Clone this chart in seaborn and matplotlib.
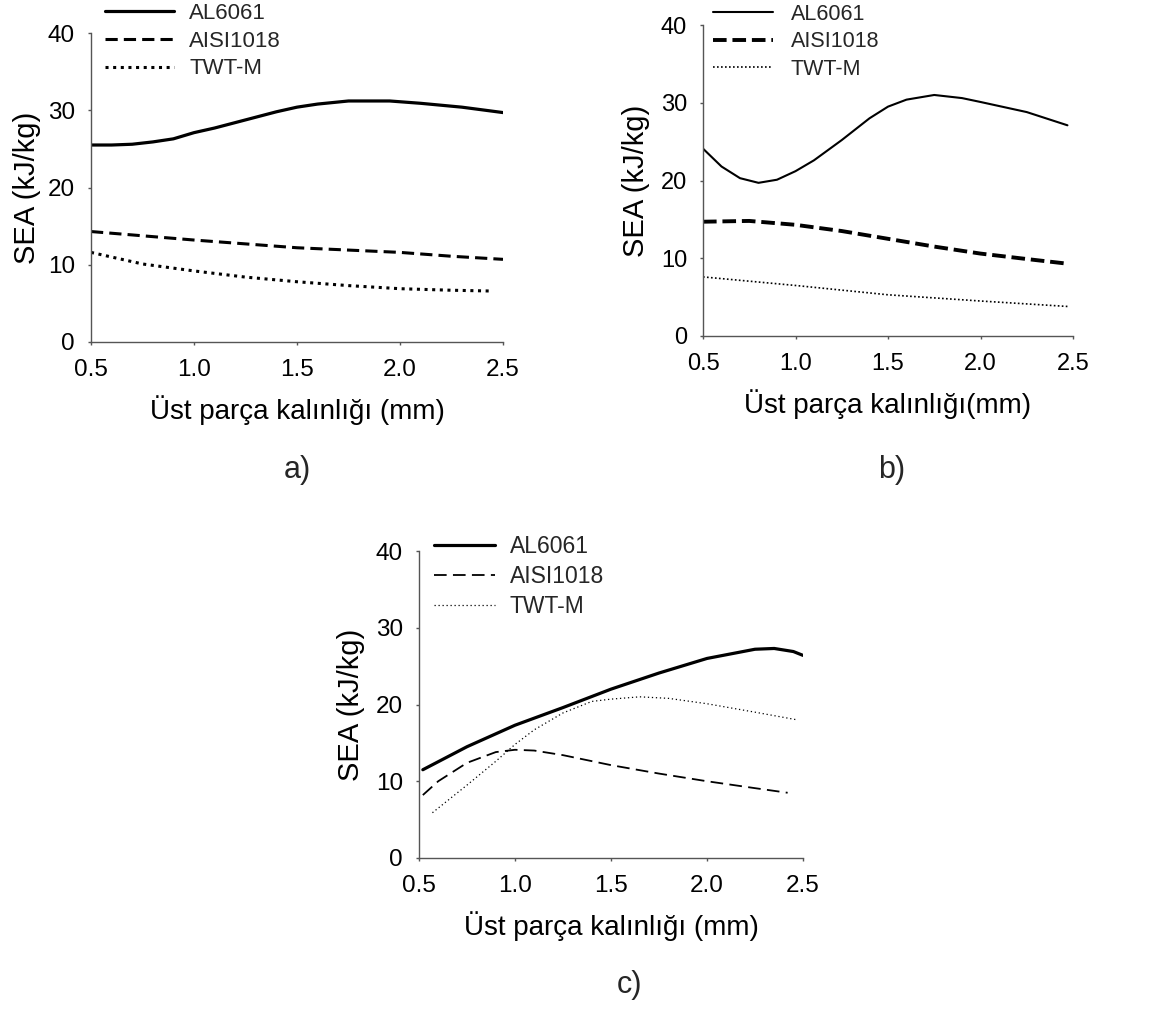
import matplotlib
matplotlib.use("Agg")
import matplotlib.pyplot as plt
import seaborn as sns
import numpy as np

sns.set_style("white")
plt.rcParams['font.family'] = ['Liberation Sans', 'DejaVu Sans']

W, H = 1165, 1014

series_names = ["AL6061", "AISI1018", "TWT-M"]
xticks = [0.5, 1.0, 1.5, 2.0, 2.5]
xticklabels = ["0.5", "1.0", "1.5", "2.0", "2.5"]
yticks = [0, 10, 20, 30, 40]

# Panel a
a_al_x = [0.5, 0.6, 0.7, 0.8, 0.9, 1.0, 1.1, 1.2, 1.3, 1.4, 1.5, 1.6, 1.75, 1.95, 2.1, 2.3, 2.5]
a_al_y = [25.5, 25.5, 25.6, 25.9, 26.3, 27.1, 27.7, 28.4, 29.1, 29.8, 30.4, 30.8, 31.2, 31.2, 30.9, 30.4, 29.7]
a_st_x = [0.5, 0.75, 1.0, 1.25, 1.5, 1.75, 2.0, 2.25, 2.5]
a_st_y = [14.3, 13.75, 13.2, 12.7, 12.2, 11.9, 11.6, 11.1, 10.7]
a_tw_x = [0.5, 0.75, 1.0, 1.25, 1.5, 1.75, 2.0, 2.25, 2.44]
a_tw_y = [11.6, 10.1, 9.2, 8.4, 7.8, 7.3, 6.9, 6.7, 6.6]

# Panel b
b_al_x = [0.5, 0.6, 0.7, 0.8, 0.9, 1.0, 1.1, 1.25, 1.4, 1.5, 1.6, 1.75, 1.9, 2.0, 2.25, 2.47]
b_al_y = [24.1, 21.8, 20.3, 19.7, 20.1, 21.2, 22.6, 25.2, 28.0, 29.5, 30.4, 31.0, 30.6, 30.1, 28.8, 27.1]
b_st_x = [0.5, 0.75, 1.0, 1.25, 1.5, 1.75, 2.0, 2.25, 2.47]
b_st_y = [14.7, 14.8, 14.3, 13.5, 12.5, 11.5, 10.6, 9.9, 9.3]
b_tw_x = [0.5, 1.0, 1.5, 2.0, 2.47]
b_tw_y = [7.6, 6.5, 5.3, 4.5, 3.8]

# Panel c
c_al_x = [0.52, 0.75, 1.0, 1.25, 1.5, 1.75, 2.0, 2.25, 2.35, 2.45, 2.5]
c_al_y = [11.5, 14.5, 17.3, 19.6, 22.0, 24.1, 26.0, 27.2, 27.3, 26.9, 26.4]
c_st_x = [0.52, 0.6, 0.75, 0.9, 1.0, 1.1, 1.25, 1.5, 1.75, 2.0, 2.25, 2.42]
c_st_y = [8.2, 10.0, 12.4, 13.8, 14.1, 14.0, 13.4, 12.1, 11.0, 10.0, 9.1, 8.5]
c_tw_x = [0.57, 0.75, 0.9, 1.0, 1.1, 1.25, 1.4, 1.5, 1.65, 1.8, 2.0, 2.25, 2.47]
c_tw_y = [5.9, 9.5, 12.6, 14.8, 16.7, 18.9, 20.4, 20.7, 21.0, 20.8, 20.1, 19.0, 18.0]

fig = plt.figure(figsize=(W / 100, H / 100), dpi=100)


def make_ax(l, r, t, b):
    return fig.add_axes([l / W, 1 - b / H, (r - l) / W, (b - t) / H])


panels = [
    dict(box=(91, 503, 33, 342),
         data=[(a_al_x, a_al_y), (a_st_x, a_st_y), (a_tw_x, a_tw_y)],
         styles=[dict(ls='-', lw=2.3), dict(ls=(0, (4, 2)), lw=2.2), dict(ls=(0, (1, 1.5)), lw=2.2)],
         xlabel="Üst parça kalınlığı (mm)", ylpad=5, fs=17.5,
         leg=(105, 3, 3.1, 0.68, 16), letter=("a)", 297, 470)),
    dict(box=(703, 1073, 25, 336),
         data=[(b_al_x, b_al_y), (b_st_x, b_st_y), (b_tw_x, b_tw_y)],
         styles=[dict(ls='-', lw=1.5), dict(ls=(0, (3.5, 1.5)), lw=2.8), dict(ls=(0, (1, 1.4)), lw=1.2)],
         xlabel="Üst parça kalınlığı(mm)", ylpad=8, fs=17,
         leg=(713, 4, 2.8, 0.8, 15.5), letter=("b)", 892, 470)),
    dict(box=(419, 803, 551, 858),
         data=[(c_al_x, c_al_y), (c_st_x, c_st_y), (c_tw_x, c_tw_y)],
         styles=[dict(ls='-', lw=2.3), dict(ls=(0, (7, 3.5)), lw=1.3), dict(ls=(0, (1, 2.2)), lw=0.9)],
         xlabel="Üst parça kalınlığı (mm)", ylpad=8, fs=17.5,
         leg=(434, 535, 2.65, 0.65, 16.5), letter=("c)", 630, 985)),
]

for p in panels:
    ax = make_ax(*p['box'])
    for name, (xs, ys), st in zip(series_names, p['data'], p['styles']):
        sns.lineplot(x=xs, y=ys, ax=ax, color='black', linestyle=st['ls'],
                     linewidth=st['lw'], label=name, sort=False)
    ax.set_xlim(0.5, 2.5)
    ax.set_ylim(0, 40)
    ax.set_xticks(xticks)
    ax.set_xticklabels(xticklabels)
    ax.set_yticks(yticks)
    for s in ['top', 'right']:
        ax.spines[s].set_visible(False)
    for s in ['left', 'bottom']:
        ax.spines[s].set_color('#555555')
        ax.spines[s].set_linewidth(1.0)
    ax.tick_params(axis='both', direction='out', length=2.5, width=1, color='#555555',
                   labelsize=p['fs'], labelcolor='black', left=True, bottom=True)
    ax.tick_params(axis='x', pad=10)
    ax.tick_params(axis='y', pad=9)
    ax.set_xlabel(p['xlabel'], fontsize=20, labelpad=10, color='black')
    ax.set_ylabel("SEA (kJ/kg)", fontsize=21, labelpad=p['ylpad'], color='black')
    lx, ly, hl, htp, lfs = p['leg']
    ax.legend(loc='upper left', bbox_to_anchor=(lx / W, 1 - ly / H),
              bbox_transform=fig.transFigure, frameon=False, borderpad=0,
              borderaxespad=0, handlelength=hl, handletextpad=htp,
              labelspacing=0.3, fontsize=lfs)
    txt, tx, ty = p['letter']
    fig.text(tx / W, 1 - ty / H, txt, fontsize=22, ha='center', va='center')

fig.savefig("out.png", dpi=100)
